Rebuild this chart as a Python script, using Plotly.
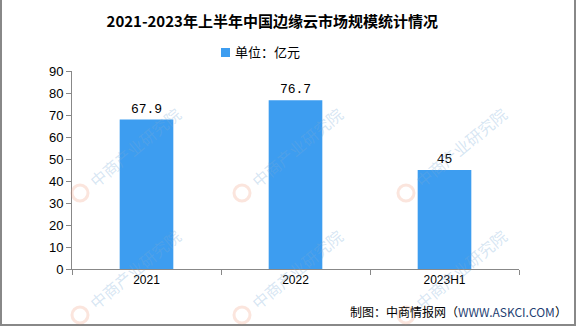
import plotly.graph_objects as go

categories = ["2021", "2022", "2023H1"]
values = [67.9, 76.7, 45]
value_labels = ["67.9", "76.7", "45"]
y_ticks = [0, 10, 20, 30, 40, 50, 60, 70, 80, 90]
series_name = "单位：亿元"
title_text = "2021-2023年上半年中国边缘云市场规模统计情况"
watermark_text = "中商产业研究院"

W, H = 585, 327
L, R, T, B = 72, 66, 71, 58
PW, PH = W - L - R, H - T - B
BAR_COLOR = "#3d9df0"


def px(x):
    return (x - L) / PW


def py(y):
    return (H - B - y) / PH


fig = go.Figure()
fig.add_trace(go.Bar(
    x=categories, y=values, name=series_name,
    marker=dict(color=BAR_COLOR, line=dict(width=0)),
    width=0.36,
    text=value_labels, textposition="outside",
    textfont=dict(family="Liberation Mono, DejaVu Sans Mono", size=13, color="#000"),
    cliponaxis=False, showlegend=False,
))

annotations = []
shapes = []
# faint watermarks (only those fully inside the picture)
for lx, ly in [(80, 193), (242, 193), (406, 193), (80, 315), (242, 315), (406, 315)]:
    cx, cy = lx + 55, ly - 46
    annotations.append(dict(
        x=px(cx), y=py(cy), xref="paper", yref="paper", showarrow=False,
        text=watermark_text, textangle=-40,
        font=dict(family="Noto Sans CJK SC", size=16, color="rgba(120,170,215,0.30)"),
        xanchor="center", yanchor="middle",
    ))
    shapes.append(dict(
        type="circle", xref="paper", yref="paper",
        x0=px(lx - 8), x1=px(lx + 8), y0=py(ly + 8), y1=py(ly - 8),
        line=dict(color="rgba(240,150,120,0.25)", width=3), fillcolor="rgba(0,0,0,0)",
    ))

# legend (square + label)
shapes.append(dict(
    type="rect", xref="paper", yref="paper",
    x0=px(221), x1=px(230), y0=py(57), y1=py(48),
    line=dict(width=0), fillcolor=BAR_COLOR,
))
annotations.append(dict(
    x=px(233), y=py(52), xref="paper", yref="paper", showarrow=False,
    xanchor="left", yanchor="middle", text=series_name,
    font=dict(family="Noto Sans CJK SC", size=13, color="#000"),
))

annotations.append(dict(
    x=px(569), y=py(311), xref="paper", yref="paper", showarrow=False,
    xanchor="right", yanchor="middle",
    text="制图：中商情报网（<span style='color:#1f3f73'>WWW.ASKCI.COM</span>）",
    font=dict(family="Noto Sans CJK SC", size=12, color="#000"),
))

shapes.append(dict(
    type="rect", xref="paper", yref="paper",
    x0=px(1), x1=px(575), y0=py(325), y1=py(-5),
    line=dict(color="#888", width=2), fillcolor="rgba(0,0,0,0)", layer="below",
))

fig.update_layout(
    width=W, height=H,
    margin=dict(l=L, r=R, t=T, b=B),
    paper_bgcolor="white", plot_bgcolor="white",
    title=dict(
        text="<b>" + title_text + "</b>",
        x=px(280), xanchor="center", y=1 - 22 / H, yanchor="middle",
        font=dict(family="Noto Sans CJK SC", size=15, color="#000"),
    ),
    showlegend=False,
    xaxis=dict(
        showline=True, linecolor="#888", linewidth=1,
        ticks="outside", tickcolor="#888", ticklen=5, tickson="boundaries",
        tickfont=dict(family="Liberation Sans, DejaVu Sans", size=12, color="#000"),
        showgrid=False, zeroline=False,
    ),
    yaxis=dict(
        range=[0, 90], tickvals=y_ticks,
        showline=True, linecolor="#888", linewidth=1,
        ticks="outside", tickcolor="#888", ticklen=5,
        tickfont=dict(family="Liberation Sans, DejaVu Sans", size=13, color="#000"),
        showgrid=False, zeroline=False,
    ),
    annotations=annotations,
    shapes=shapes,
)

fig.write_html("out.html")
